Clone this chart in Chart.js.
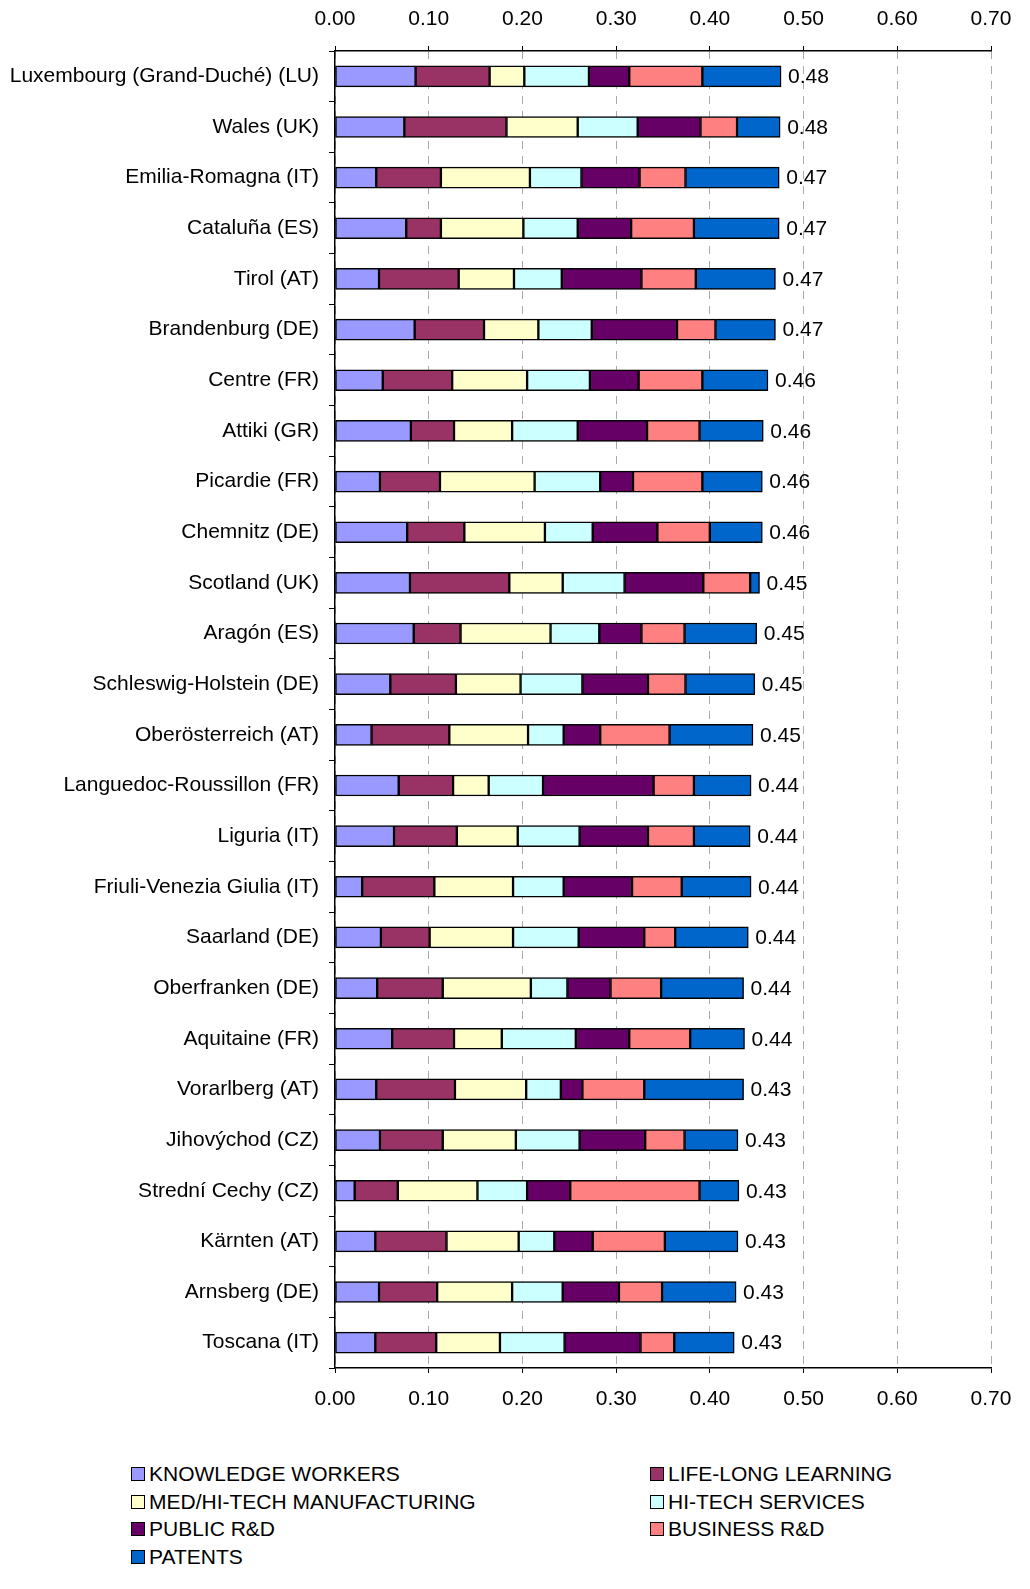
<!DOCTYPE html>
<html>
<head>
<meta charset="utf-8">
<script src="https://cdn.jsdelivr.net/npm/chart.js@4.4.1/dist/chart.umd.min.js"></script>
<style>
    html, body { margin: 0; padding: 0; width: 1030px; height: 1589px; overflow: hidden; background: #fff; font-family: "Liberation Sans", Arial, sans-serif; }
    #box { position: absolute; left: 0; top: 0; width: 1030px; height: 1440px; }
    #legenda { position: absolute; left: 0; top: 1460px; width: 1030px; height: 120px; }
    .voce { position: absolute; font-size: 21px; color: #000; white-space: nowrap; line-height: 22px; }
    .voce span { display: inline-block; width: 12px; height: 12px; border: 1.5px solid #000; margin-right: 4px; vertical-align: 0px; }
</style>
</head>
<body>
<div id="box"><canvas id="grafico"></canvas></div>
<div id="legenda"></div>
<script>
// Regioni (dall'alto verso il basso)
const regioni = [
    'Luxembourg (Grand-Duché) (LU)', 'Wales (UK)', 'Emilia-Romagna (IT)', 'Cataluña (ES)',
    'Tirol (AT)', 'Brandenburg (DE)', 'Centre (FR)', 'Attiki (GR)', 'Picardie (FR)',
    'Chemnitz (DE)', 'Scotland (UK)', 'Aragón (ES)', 'Schleswig-Holstein (DE)',
    'Oberösterreich (AT)', 'Languedoc-Roussillon (FR)', 'Liguria (IT)',
    'Friuli-Venezia Giulia (IT)', 'Saarland (DE)', 'Oberfranken (DE)', 'Aquitaine (FR)',
    'Vorarlberg (AT)', 'Jihovýchod (CZ)', 'Strední Cechy (CZ)', 'Kärnten (AT)',
    'Arnsberg (DE)', 'Toscana (IT)'
];

// Valori, una serie per indicatore
const knowledgeWorkers = [0.086, 0.074, 0.044, 0.076, 0.047, 0.085, 0.051, 0.081, 0.048, 0.077, 0.080, 0.084, 0.059, 0.039, 0.068, 0.063, 0.029, 0.049, 0.045, 0.061, 0.044, 0.048, 0.021, 0.043, 0.047, 0.043];
const lifeLongLearning = [0.079, 0.109, 0.069, 0.037, 0.085, 0.074, 0.074, 0.046, 0.064, 0.061, 0.106, 0.050, 0.070, 0.083, 0.058, 0.067, 0.077, 0.052, 0.070, 0.066, 0.084, 0.067, 0.046, 0.076, 0.062, 0.065];
const medHiTech = [0.037, 0.076, 0.095, 0.088, 0.059, 0.058, 0.080, 0.062, 0.101, 0.086, 0.057, 0.096, 0.069, 0.084, 0.038, 0.065, 0.084, 0.089, 0.094, 0.051, 0.076, 0.078, 0.085, 0.077, 0.080, 0.068];
const hiTechServices = [0.069, 0.064, 0.055, 0.058, 0.051, 0.057, 0.067, 0.070, 0.070, 0.051, 0.066, 0.052, 0.066, 0.038, 0.058, 0.066, 0.054, 0.070, 0.039, 0.079, 0.037, 0.068, 0.053, 0.038, 0.054, 0.069];
const publicRD = [0.043, 0.067, 0.062, 0.057, 0.085, 0.091, 0.052, 0.074, 0.035, 0.069, 0.084, 0.045, 0.070, 0.039, 0.118, 0.073, 0.073, 0.070, 0.046, 0.057, 0.023, 0.070, 0.046, 0.041, 0.060, 0.081];
const businessRD = [0.078, 0.039, 0.049, 0.067, 0.058, 0.041, 0.068, 0.056, 0.074, 0.056, 0.050, 0.046, 0.040, 0.074, 0.043, 0.049, 0.053, 0.033, 0.054, 0.065, 0.066, 0.042, 0.138, 0.077, 0.046, 0.036];
const patents = [0.084, 0.046, 0.100, 0.091, 0.085, 0.064, 0.070, 0.068, 0.064, 0.056, 0.010, 0.077, 0.074, 0.089, 0.061, 0.060, 0.074, 0.078, 0.088, 0.058, 0.106, 0.057, 0.042, 0.078, 0.079, 0.064];

// Etichette dei totali come stampate nel grafico
const totali = ['0.48', '0.48', '0.47', '0.47', '0.47', '0.47', '0.46', '0.46', '0.46', '0.46', '0.45', '0.45', '0.45', '0.45', '0.44', '0.44', '0.44', '0.44', '0.44', '0.44', '0.43', '0.43', '0.43', '0.43', '0.43', '0.43'];

const serie = [
    { nome: 'KNOWLEDGE WORKERS', dati: knowledgeWorkers, colore: '#9999FF' },
    { nome: 'LIFE-LONG LEARNING', dati: lifeLongLearning, colore: '#993366' },
    { nome: 'MED/HI-TECH MANUFACTURING', dati: medHiTech, colore: '#FFFFCC' },
    { nome: 'HI-TECH SERVICES', dati: hiTechServices, colore: '#CCFFFF' },
    { nome: 'PUBLIC R&D', dati: publicRD, colore: '#660066' },
    { nome: 'BUSINESS R&D', dati: businessRD, colore: '#FF8080' },
    { nome: 'PATENTS', dati: patents, colore: '#0066CC' }
];

Chart.defaults.font.family = '"Liberation Sans", Arial, sans-serif';
Chart.defaults.font.size = 21;
Chart.defaults.color = '#000';

// Scrive il totale a destra di ogni barra
const pluginTotali = {
    id: 'totali',
    afterDatasetsDraw(chart) {
        const ctx = chart.ctx;
        const ultimo = chart.getDatasetMeta(chart.data.datasets.length - 1);
        ctx.save();
        ctx.font = '21px "Liberation Sans", Arial, sans-serif';
        ctx.fillStyle = '#000';
        ctx.textAlign = 'left';
        ctx.textBaseline = 'middle';
        ultimo.data.forEach((barra, i) => {
            ctx.fillText(totali[i], barra.x + 7, barra.y + 1);
        });
        ctx.restore();
    }
};

const assePercentuale = (posizione, griglia, altezza) => ({
    type: 'linear',
    position: posizione,
    stacked: true,
    min: 0,
    max: 0.7,
    afterFit: scala => { scala.height = altezza; },
    ticks: {
        stepSize: 0.1,
        padding: 14,
        callback: v => v.toFixed(2)
    },
    grid: {
        drawOnChartArea: griglia,
        color: '#aaa',
        tickColor: '#000',
        tickBorderDash: [],
        tickLength: 5
    },
    border: { display: true, color: '#000', width: 1.5, dash: [8, 7] }
});

const ctx = document.getElementById('grafico').getContext('2d');
new Chart(ctx, {
    type: 'bar',
    data: {
        labels: regioni,
        datasets: serie.map(s => ({
            label: s.nome,
            data: s.dati,
            backgroundColor: s.colore,
            borderColor: '#000',
            borderWidth: 1.5,
            borderSkipped: false,
            barThickness: 21,
            xAxisID: 'x'
        }))
    },
    options: {
        indexAxis: 'y',
        responsive: true,
        maintainAspectRatio: false,
        animation: false,
        layout: { padding: { left: 0, right: 39, top: 0, bottom: 0 } },
        plugins: {
            legend: { display: false },
            tooltip: { enabled: false }
        },
        scales: {
            x: assePercentuale('bottom', true, 72),
            x2: assePercentuale('top', false, 51),
            y: {
                type: 'category',
                stacked: true,
                afterFit: scala => { scala.width = 335; },
                ticks: { padding: 10, autoSkip: false },
                grid: {
                    offset: true,
                    drawOnChartArea: false,
                    tickColor: '#000',
                    tickLength: 6
                },
                border: { display: true, color: '#000', width: 1.5 }
            }
        }
    },
    plugins: [pluginTotali]
});

// Legenda su due colonne
const legenda = document.getElementById('legenda');
serie.forEach((s, i) => {
    const voce = document.createElement('div');
    voce.className = 'voce';
    voce.style.left = (i % 2 === 0 ? 131 : 650) + 'px';
    voce.style.top = (Math.floor(i / 2) * 27.5 + 3) + 'px';
    voce.innerHTML = `<span style="background:${s.colore}"></span>${s.nome}`;
    legenda.appendChild(voce);
});
</script>
</body>
</html>
